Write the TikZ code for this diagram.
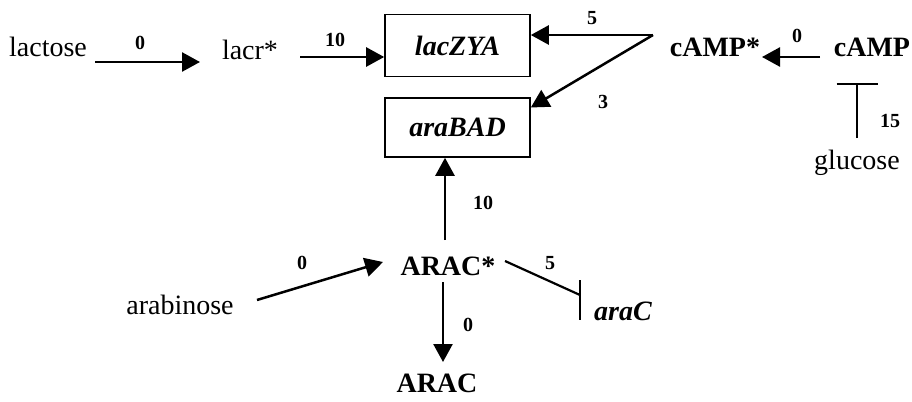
\documentclass[tikz,border=0pt]{standalone}
\usepackage{fontspec}
\setmainfont{Liberation Serif}
\usetikzlibrary{arrows.meta}
\begin{document}
\begin{tikzpicture}[x=0.5pt,y=-0.5pt,
  txt/.style={inner sep=0pt,font=\fontsize{14}{16}\selectfont},
  bld/.style={txt,font=\fontsize{14}{16}\selectfont\bfseries},
  gene/.style={txt,font=\fontsize{14}{16}\selectfont\bfseries\itshape},
  genebox/.style={gene,draw,line width=0.8pt,minimum width=72.5pt},
  num/.style={inner sep=0pt,font=\fontsize{10}{12}\selectfont\bfseries},
  act/.style={line width=1.25pt,-{Triangle[length=9pt,width=9.5pt]}},
  inh/.style={line width=1.1pt},
  inhT/.style={line width=1.1pt,-{Bar[width=20.5pt,line width=1.1pt]}}]
\useasboundingbox (0,0) rectangle (912,402);

% species and genes
\node[txt]  (lactose)   at (48,47)    {lactose};
\node[txt]  (lacr)      at (250,50)   {lacr*};
\node[genebox,minimum height=31pt]   (lac) at (457.5,45.5)  {lacZYA};
\node[genebox,minimum height=29.5pt] (ara) at (457.5,127.5) {araBAD};
\node[bld]  (campstar)  at (715,47)   {cAMP*};
\node[bld]  (camp)      at (872,47)   {cAMP};
\node[txt]  (glucose)   at (857,163)  {glucose};
\node[bld]  (aracstar)  at (448,266)  {ARAC*};
\node[txt]  (arabinose) at (180,305)  {arabinose};
\node[bld]  (arac)      at (437,383)  {ARAC};
\node[gene] (araC)      at (623,311)  {araC};

% activations
\draw[act] ([shift={(47,15)}]lactose.center) -- ([shift={(-50,12)}]lacr.center);
\draw[act] ([shift={(50,7)}]lacr.center) -- ([shift={(0,11.5)}]lac.west);
\draw[act] ([shift={(-62,-12)}]campstar.center) -- ([shift={(0,-10.5)}]lac.east);
\draw[act] ([shift={(-62,-12)}]campstar.center) -- ([shift={(0,-20)}]ara.east);
\draw[act] ([shift={(-52,10)}]camp.center) -- ([shift={(47,10)}]campstar.center);
\draw[act] ([shift={(-3,-26)}]aracstar.center) -- ([shift={(-12.5,0)}]ara.south);
\draw[act] ([shift={(77,-5)}]arabinose.center) -- ([shift={(-65,-4)}]aracstar.center);
\draw[act] ([shift={(-5,16)}]aracstar.center) -- ([shift={(6,-21)}]arac.center);

% repressions
\draw[inhT] ([shift={(0,-25)}]glucose.center) -- ([shift={(-15,36)}]camp.center);
\draw[inh] ([shift={(57,-5)}]aracstar.center) -- ([shift={(-43,-16)}]araC.center);
\draw[inh] ([shift={(-43,-31)}]araC.center) -- ([shift={(-43,9)}]araC.center);

% rate labels
\node[num] (w1)  at (140,43)  {0};
\node[num] (w2)  at (335,40)  {10};
\node[num] (w3)  at (592,18)  {5};
\node[num] (w4)  at (603,102) {3};
\node[num] (w5)  at (797,36)  {0};
\node[num] (w6)  at (890,121) {15};
\node[num] (w7)  at (483,203) {10};
\node[num] (w8)  at (302,263) {0};
\node[num] (w9)  at (468,325) {0};
\node[num] (w10) at (550,263) {5};
\end{tikzpicture}
\end{document}
